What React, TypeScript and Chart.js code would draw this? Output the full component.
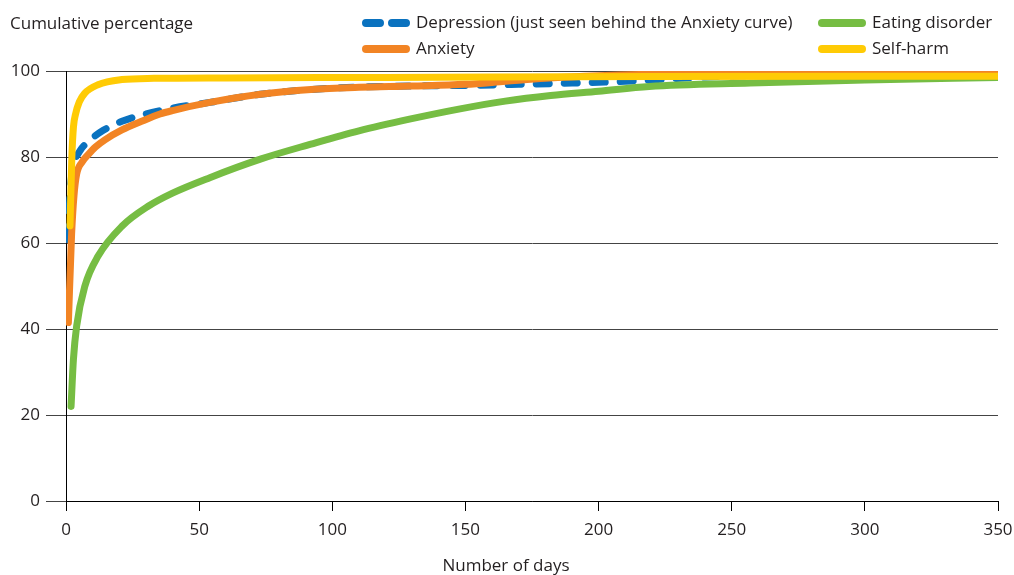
import React, { useEffect, useRef } from "react";
import { Chart, registerables } from "chart.js";

Chart.register(...registerables);

const yAxisTitle = "Cumulative percentage";
const xAxisTitle = "Number of days";
const xTickValues = [0, 50, 100, 150, 200, 250, 300, 350];
const yTickValues = [0, 20, 40, 60, 80, 100];

const depressionLabel = "Depression (just seen behind the Anxiety curve)";
const depressionDays = [0.6, 1.2, 2, 3, 5.3, 8.4, 14, 21, 37, 54, 73, 100, 130, 150, 170, 190, 210, 240, 280, 350];
const depressionValues = [60.8, 68, 75, 78.5, 81.5, 83.6, 86.2, 88.3, 91.0, 92.7, 94.6, 96.0, 96.5, 96.65, 96.9, 97.2, 97.6, 98.6, 99.2, 99.3];

const anxietyLabel = "Anxiety";
const anxietyDays = [0.9, 2.1, 3, 4, 6, 8.4, 11, 14.6, 21, 28.4, 35.3, 40, 54, 73, 92, 110, 130, 150, 165, 180, 200, 225, 260, 350];
const anxietyValues = [41.5, 62, 71, 76, 78.8, 80.6, 82.3, 84, 86.3, 88.3, 90.0, 90.8, 92.7, 94.6, 95.7, 96.2, 96.5, 96.9, 97.6, 98.3, 98.9, 99.3, 99.4, 99.4];

const eatingLabel = "Eating disorder";
const eatingDays = [1.9, 2.8, 4, 7.1, 12, 21, 31, 40, 54, 73, 92, 110, 129, 148, 165, 182, 200, 219, 257, 300, 350];
const eatingValues = [22, 33, 40.7, 50, 56.9, 63.9, 68.6, 71.6, 75.2, 79.5, 83.0, 86.1, 88.8, 91.2, 93, 94.3, 95.3, 96.4, 97.2, 97.9, 98.5];

const selfHarmLabel = "Self-harm";
const selfHarmDays = [1.5, 2.2, 2.8, 3.6, 5, 7, 12, 21, 33, 60, 120, 220, 350];
const selfHarmValues = [64, 80, 87, 90, 92.8, 94.8, 96.8, 98.0, 98.3, 98.4, 98.5, 98.7, 98.8];

const BLUE = "#0a72bf";
const ORANGE = "#f28424";
const GREEN = "#76bd43";
const YELLOW = "#ffcb05";
const TEXT = "#231f20";
const FONT = "'Open Sans', sans-serif";
const FONT_SIZE = 17;

const toPoints = (xs: number[], ys: number[]) => xs.map((x, i) => ({ x, y: ys[i] }));

const textPlugin = {
  id: "customTexts",
  afterDraw(chart: any) {
    const ctx = chart.ctx as CanvasRenderingContext2D;
    ctx.save();
    ctx.fillStyle = TEXT;
    ctx.font = `${FONT_SIZE}px ${FONT}`;
    ctx.textBaseline = "middle";
    ctx.textAlign = "left";
    ctx.fillText(yAxisTitle, 10, 24);
    ctx.textAlign = "center";
    ctx.fillText(xAxisTitle, 506, 566);

    const items = [
      { label: depressionLabel, color: BLUE, dashed: true, x: 362, y: 23 },
      { label: anxietyLabel, color: ORANGE, dashed: false, x: 362, y: 49 },
      { label: eatingLabel, color: GREEN, dashed: false, x: 818, y: 23 },
      { label: selfHarmLabel, color: YELLOW, dashed: false, x: 818, y: 49 },
    ];
    for (const it of items) {
      ctx.strokeStyle = it.color;
      ctx.lineWidth = 8;
      ctx.lineCap = "round";
      ctx.beginPath();
      if (it.dashed) {
        ctx.moveTo(it.x + 4, it.y);
        ctx.lineTo(it.x + 18, it.y);
        ctx.moveTo(it.x + 30, it.y);
        ctx.lineTo(it.x + 44, it.y);
      } else {
        ctx.moveTo(it.x + 4, it.y);
        ctx.lineTo(it.x + 44, it.y);
      }
      ctx.stroke();
      ctx.fillStyle = TEXT;
      ctx.textAlign = "left";
      ctx.fillText(it.label, it.x + 54, it.y);
    }
    ctx.restore();
  },
};

export default function App() {
  const canvasRef = useRef<HTMLCanvasElement | null>(null);

  useEffect(() => {
    const canvas = canvasRef.current;
    if (!canvas) return;
    const lineCommon = {
      pointRadius: 0,
      borderWidth: 7,
      borderCapStyle: "round" as const,
      borderJoinStyle: "round" as const,
      cubicInterpolationMode: "monotone" as const,
      fill: false,
    };
    const chart = new Chart(canvas, {
      type: "line",
      data: {
        datasets: [
          { ...lineCommon, label: depressionLabel, data: toPoints(depressionDays, depressionValues), borderColor: BLUE, borderDash: [13, 15], order: 3 },
          { ...lineCommon, label: anxietyLabel, data: toPoints(anxietyDays, anxietyValues), borderColor: ORANGE, order: 2 },
          { ...lineCommon, label: eatingLabel, data: toPoints(eatingDays, eatingValues), borderColor: GREEN, order: 1 },
          { ...lineCommon, label: selfHarmLabel, data: toPoints(selfHarmDays, selfHarmValues), borderColor: YELLOW, order: 0 },
        ],
      },
      options: {
        responsive: false,
        animation: false,
        devicePixelRatio: 1,
        layout: { padding: { top: 71, right: 16, left: 0, bottom: 0 } },
        plugins: { legend: { display: false }, tooltip: { enabled: false }, title: { display: false } },
        scales: {
          x: {
            type: "linear",
            min: 0,
            max: 350,
            afterBuildTicks: (s: any) => { s.ticks = xTickValues.map((v) => ({ value: v })); },
            afterFit: (s: any) => { s.height = 74; s.paddingLeft = 0; s.paddingRight = 0; },
            grid: { drawOnChartArea: false, drawTicks: true, tickLength: 10, tickColor: "#000", tickWidth: 1 },
            border: { display: true, color: "#000", width: 1 },
            ticks: { color: TEXT, font: { family: FONT, size: FONT_SIZE }, padding: 9, maxRotation: 0, autoSkip: false },
          },
          y: {
            type: "linear",
            min: 0,
            max: 100,
            afterBuildTicks: (s: any) => { s.ticks = yTickValues.map((v) => ({ value: v })); },
            afterFit: (s: any) => { s.width = 66; s.paddingTop = 0; s.paddingBottom = 0; },
            grid: { drawOnChartArea: true, drawTicks: true, tickLength: 20, color: "#444", tickColor: "#444", lineWidth: 1 },
            border: { display: true, color: "#000", width: 1 },
            ticks: { color: TEXT, font: { family: FONT, size: FONT_SIZE }, padding: 6 },
          },
        },
      },
      plugins: [textPlugin],
    });
    return () => chart.destroy();
  }, []);

  return (
    <div style={{ position: "absolute", left: 0, top: 0, width: 1014, height: 575, background: "#fff" }}>
      <canvas ref={canvasRef} width={1014} height={575} style={{ display: "block" }} />
    </div>
  );
}
